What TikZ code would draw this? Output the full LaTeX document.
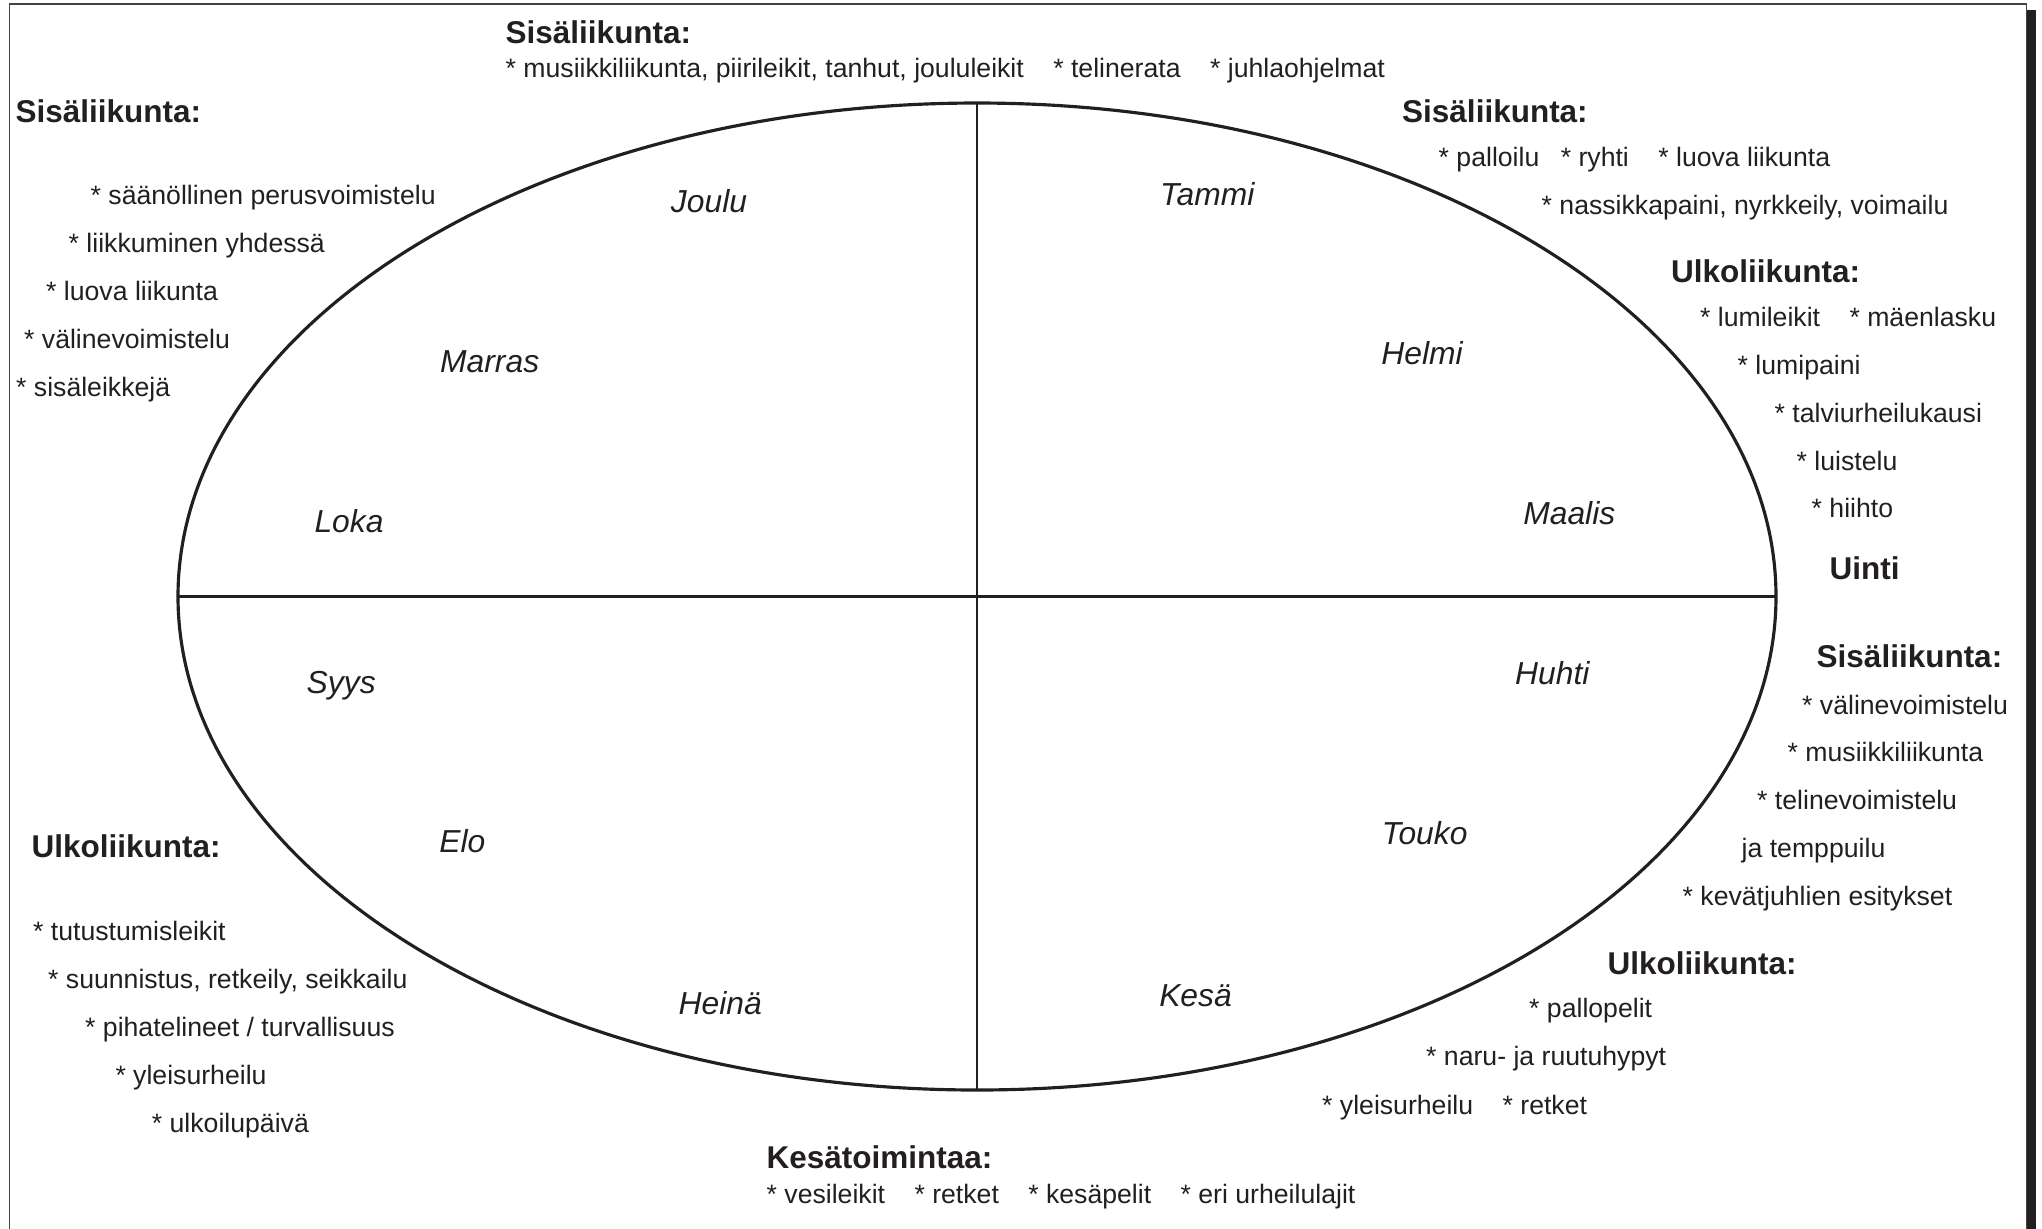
\documentclass[tikz,border=0pt]{standalone}
\usepackage{fontspec}
\setmainfont{Liberation Sans}
\usetikzlibrary{shapes,positioning}
\definecolor{ink}{HTML}{231F20}

\begin{document}
\begin{tikzpicture}[
    x=0.1mm, y=-0.1mm,
    node distance=2.8mm,
    head/.style={inner sep=0pt, anchor=west, text height=6.45pt, text depth=0pt, text=ink, font=\fontsize{8.96}{10}\selectfont\bfseries},
    item/.style={inner sep=0pt, anchor=west, text height=5.46pt, text depth=0pt, text=ink, font=\fontsize{7.58}{9}\selectfont},
    month/.style={inner sep=0pt, text height=6.5pt, text depth=0pt, text=ink, font=\fontsize{9.05}{10}\selectfont\itshape},
    wheel/.style={ellipse, draw=ink, line width=0.9pt, inner sep=0pt, outer sep=0pt, minimum width=159.8mm, minimum height=98.7mm},
    divider/.style={draw=ink, line width=0.7pt}
]
\useasboundingbox (0,0) rectangle (2042,1228);

% Frame with shadow on the right
\draw[ink!85, line width=0.35pt] (9.3,1250) -- (9.3,4) -- (2026.5,4) -- (2026.5,1250);
\fill[ink] (2026.5,10) rectangle (2036,1250);

% Year wheel
\node[wheel] (wheel) at (977,596.5) {};
\draw[divider] (wheel.north) -- (wheel.south);
\draw[divider] (wheel.west) -- (wheel.east);

% Months
\node[month] (joulu) at (709,201.5) {Joulu};
\node[month] (marras) at (489.7,360.7) {Marras};
\node[month] (loka) at (349,521) {Loka};
\node[month] (syys) at (341.2,682.4) {Syys};
\node[month] (elo) at (462.3,841.3) {Elo};
\node[month] (heina) at (720.2,1002.8) {Heinä};
\node[month] (kesa) at (1195.5,995) {Kesä};
\node[month] (touko) at (1424.7,833.5) {Touko};
\node[month] (huhti) at (1552.3,673.3) {Huhti};
\node[month] (maalis) at (1569.3,513.1) {Maalis};
\node[month] (helmi) at (1422.1,352.9) {Helmi};
\node[month] (tammi) at (1207.2,194) {Tammi};

% Top - December
\node[head] (topsis) at (505,32) {Sisäliikunta:};
\node[item] (topa) at (505,68) {* musiikkiliikunta, piirileikit, tanhut, joululeikit};
\node[item, right=of topa] (topb) {* telinerata};
\node[item, right=of topb] (topc) {* juhlaohjelmat};

% Left top - autumn indoors
\node[head] (lsis) at (15,111) {Sisäliikunta:};
\node[item] (ls1) at (90,194.5) {* säänöllinen perusvoimistelu};
\node[item] (ls2) at (68,242.5) {* liikkuminen yhdessä};
\node[item] (ls3) at (45.5,291) {* luova liikunta};
\node[item] (ls4) at (23.5,339) {* välinevoimistelu};
\node[item] (ls5) at (15.5,387) {* sisäleikkejä};

% Right top - winter indoors
\node[head] (rsis) at (1401.5,111.5) {Sisäliikunta:};
\node[item] (rs1) at (1438,156.5) {* palloilu};
\node[item, right=2mm of rs1] (rs2) {* ryhti};
\node[item, right=of rs2] (rs3) {* luova liikunta};
\node[item] (rs4) at (1541,205) {* nassikkapaini, nyrkkeily, voimailu};

% Right top - winter outdoors
\node[head] (rulko) at (1670.5,271.5) {Ulkoliikunta:};
\node[item] (ru1) at (1699.5,316.5) {* lumileikit};
\node[item, right=of ru1] (ru2) {* mäenlasku};
\node[item] (ru3) at (1737,364.5) {* lumipaini};
\node[item] (ru4) at (1774,412.5) {* talviurheilukausi};
\node[item] (ru5) at (1796,460.5) {* luistelu};
\node[item] (ru6) at (1811,508) {* hiihto};
\node[head] (uinti) at (1829,568) {Uinti};

% Right bottom - spring indoors
\node[head] (msis) at (1816,656.5) {Sisäliikunta:};
\node[item] (ms1) at (1801.5,704.5) {* välinevoimistelu};
\node[item] (ms2) at (1787,751.5) {* musiikkiliikunta};
\node[item] (ms3) at (1756.5,799.5) {* telinevoimistelu};
\node[item] (ms4) at (1741,847.5) {ja temppuilu};
\node[item] (ms5) at (1682,896) {* kevätjuhlien esitykset};

% Right bottom - spring outdoors
\node[head] (mulko) at (1607,963.5) {Ulkoliikunta:};
\node[item] (mu1) at (1528.5,1008) {* pallopelit};
\node[item] (mu2) at (1425.5,1056) {* naru- ja ruutuhypyt};
\node[item] (mu3) at (1321.5,1104.5) {* yleisurheilu};
\node[item, right=of mu3] (mu4) {* retket};

% Bottom - summer
\node[head] (kesat) at (766,1157) {Kesätoimintaa:};
\node[item] (kt1) at (766,1193.5) {* vesileikit};
\node[item, right=of kt1] (kt2) {* retket};
\node[item, right=of kt2] (kt3) {* kesäpelit};
\node[item, right=of kt3] (kt4) {* eri urheilulajit};

% Left bottom - autumn outdoors
\node[head] (lulko) at (31,846.5) {Ulkoliikunta:};
\node[item] (lu1) at (32.5,931) {* tutustumisleikit};
\node[item] (lu2) at (47.5,979) {* suunnistus, retkeily, seikkailu};
\node[item] (lu3) at (84.5,1027) {* pihatelineet / turvallisuus};
\node[item] (lu4) at (114.8,1074.7) {* yleisurheilu};
\node[item] (lu5) at (151.2,1122.8) {* ulkoilupäivä};

\end{tikzpicture}
\end{document}
